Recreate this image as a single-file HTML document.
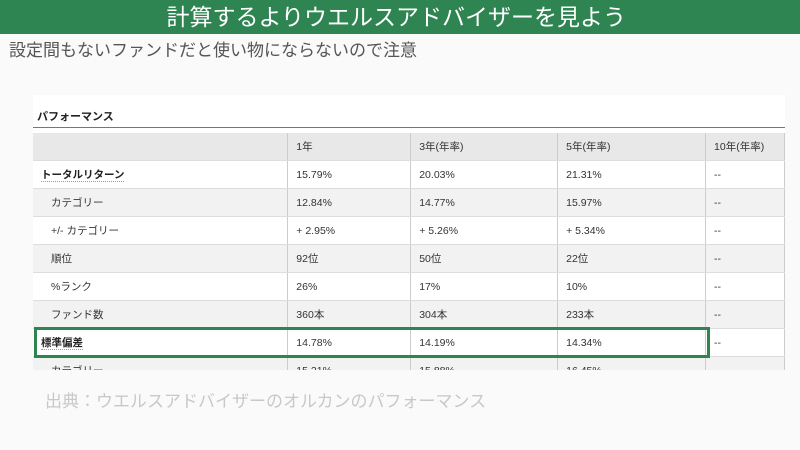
<!DOCTYPE html>
<html><head><meta charset="utf-8"><style>
body{margin:0;width:800px;height:450px;position:relative;background:#fafafa;font-family:"Liberation Sans","Noto Sans CJK JP",sans-serif;overflow:hidden}
.hd{position:absolute;left:0;top:0;width:800px;height:34px;background:#2e8552;color:#fff;font-size:23px;line-height:34px;text-align:right;padding-right:174px;box-sizing:border-box}
.sub{position:absolute;left:9px;top:36px;font-size:17px;color:#555}
.box{position:absolute;left:33px;top:95px;width:752px;height:275px;background:#fff;overflow:hidden}
.ttl{position:absolute;left:4px;top:13px;font-size:11px;font-weight:bold;color:#222}
.ln{position:absolute;left:0;top:32px;width:752px;height:1px;background:#777}
table{position:absolute;left:0;top:38px;border-collapse:collapse;font-size:10.5px;color:#333}
td{height:27px;border-bottom:1px solid #ddd;border-right:1px solid #ccc;padding:0 0 0 8px;vertical-align:middle;line-height:14px}
tr:nth-child(odd) td{background:#f2f2f2}
tr.h td{background:#e8e8e8}
tr.w td{background:#fff}
.b{font-weight:bold;color:#222}
.u{border-bottom:1px dotted #6ad}
.i{padding-left:18px}
.hl{position:absolute;left:34px;top:327px;width:670px;height:25px;border:3px solid #2e8552}
.ft{position:absolute;left:45px;top:387px;font-size:17px;color:#c8c8c8}
</style></head><body>
<div class="hd">計算するよりウエルスアドバイザーを見よう</div>
<div class="sub">設定間もないファンドだと使い物にならないので注意</div>
<div class="box">
<div class="ttl">パフォーマンス</div><div class="ln"></div>
<table>
<colgroup><col style="width:255px"><col style="width:123px"><col style="width:147px"><col style="width:148px"><col style="width:79px"></colgroup>
<tr class="h"><td></td><td>1年</td><td>3年(年率)</td><td>5年(年率)</td><td>10年(年率)</td></tr>
<tr><td class="b"><span class="u">トータルリターン</span></td><td>15.79%</td><td>20.03%</td><td>21.31%</td><td>--</td></tr>
<tr><td class="i">カテゴリー</td><td>12.84%</td><td>14.77%</td><td>15.97%</td><td>--</td></tr>
<tr><td class="i">+/- カテゴリー</td><td>+ 2.95%</td><td>+ 5.26%</td><td>+ 5.34%</td><td>--</td></tr>
<tr><td class="i">順位</td><td>92位</td><td>50位</td><td>22位</td><td>--</td></tr>
<tr><td class="i">%ランク</td><td>26%</td><td>17%</td><td>10%</td><td>--</td></tr>
<tr><td class="i">ファンド数</td><td>360本</td><td>304本</td><td>233本</td><td>--</td></tr>
<tr class="w"><td class="b"><span class="u">標準偏差</span></td><td>14.78%</td><td>14.19%</td><td>14.34%</td><td>--</td></tr>
<tr><td class="i">カテゴリー</td><td>15.21%</td><td>15.88%</td><td>16.45%</td><td>--</td></tr>
</table>
</div>
<div class="hl"></div>
<div class="ft">出典：ウエルスアドバイザーのオルカンのパフォーマンス</div>
</body></html>
